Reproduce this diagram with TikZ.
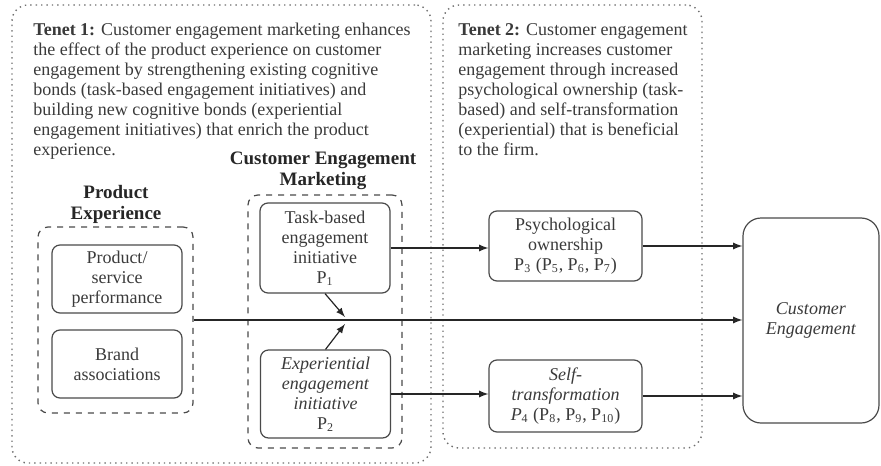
\documentclass[tikz,border=0pt]{standalone}
\usepackage{fontspec}
\setmainfont{Liberation Serif}
\usetikzlibrary{arrows}

\definecolor{ink}{HTML}{3A3A3A}
\definecolor{edge}{HTML}{4A4A4A}

\begin{document}
\begin{tikzpicture}[x=0.5pt, y=-0.5pt, >=latex,
    font=\fontsize{9}{10}\selectfont, text=ink,
    tenet/.style={draw=edge!80, dotted, line width=0.7pt, rounded corners=8pt},
    group/.style={draw=edge, dashed, line width=0.6pt, rounded corners=5pt},
    box/.style={draw=edge, line width=0.6pt, rounded corners=4pt, align=center, inner sep=1pt},
    title/.style={font=\fontsize{9.5}{10.5}\selectfont\bfseries, align=center, text=black!85},
    arr/.style={->, draw=black!85, line width=0.6pt}]

  \useasboundingbox (0,0) rectangle (881,465);

  % the two tenets
  \node[tenet, minimum width=209.5pt, minimum height=229pt] (tenet1) at (221.5,234) {};
  \node[tenet, minimum width=129.5pt, minimum height=221.5pt] (tenet2) at (572.5,226.5) {};

  \node[anchor=north west, align=left, inner sep=0pt] (tenet1txt) at (33,23)
    {\textbf{Tenet 1:} Customer engagement marketing enhances\\
     the effect of the product experience on customer\\
     engagement by strengthening existing cognitive\\
     bonds (task-based engagement initiatives) and\\
     building new cognitive bonds (experiential\\
     engagement initiatives) that enrich the product\\
     experience.};
  \node[anchor=north west, align=left, inner sep=0pt] (tenet2txt) at (458,23)
    {\textbf{Tenet 2:} Customer engagement\\
     marketing increases customer\\
     engagement through increased\\
     psychological ownership (task-\\
     based) and self-transformation\\
     (experiential) that is beneficial\\
     to the firm.};

  % product experience
  \node[title] (prodtitle) at (116,204) {Product\\Experience};
  \node[group, minimum width=77.5pt, minimum height=93pt] (prodexp) at (115.5,320) {};
  \node[box, minimum width=65pt, minimum height=34pt] (perf) at (117,279)
    {Product/\\service\\performance};
  \node[box, minimum width=65pt, minimum height=34pt] (brand) at (117,364)
    {Brand\\associations};

  % customer engagement marketing
  \node[title] (cemtitle) at (323,171) {Customer Engagement\\Marketing};
  \node[group, minimum width=77pt, minimum height=126.5pt] (cem) at (325,321.5) {};
  \node[box, minimum width=65pt, minimum height=45pt] (task) at (325,248)
    {Task-based\\engagement\\initiative\\P\textsubscript{1}};
  \node[box, minimum width=65pt, minimum height=44pt] (exper) at (325.5,394)
    {\textit{Experiential}\\\textit{engagement}\\\textit{initiative}\\P\textsubscript{2}};

  % mediators
  \node[box, minimum width=76.5pt, minimum height=35pt] (psych) at (565.5,246)
    {Psychological\\ownership\\P\textsubscript{3} (P\textsubscript{5}, P\textsubscript{6}, P\textsubscript{7})};
  \node[box, minimum width=76.5pt, minimum height=36pt] (self) at (565.5,396)
    {\textit{Self-}\\\textit{transformation}\\\textit{P}\textsubscript{4} (P\textsubscript{8}, P\textsubscript{9}, P\textsubscript{10})};

  % outcome
  \node[box, rounded corners=9pt, minimum width=68pt, minimum height=102.5pt] (ce) at (811,320.5)
    {\textit{Customer}\\\textit{Engagement}};

  \coordinate (mod) at (345,320);

  \foreach \a/\b in {task/psych, psych/ce, exper/self, self/ce, prodexp/ce}
    \draw[arr] (\a.east) -- (\a.east -| \b.west);

  \draw[arr] (task.south) -- ([yshift=1.5pt]mod);
  \draw[arr] (exper.north) -- ([yshift=-2pt]mod);
\end{tikzpicture}
\end{document}
